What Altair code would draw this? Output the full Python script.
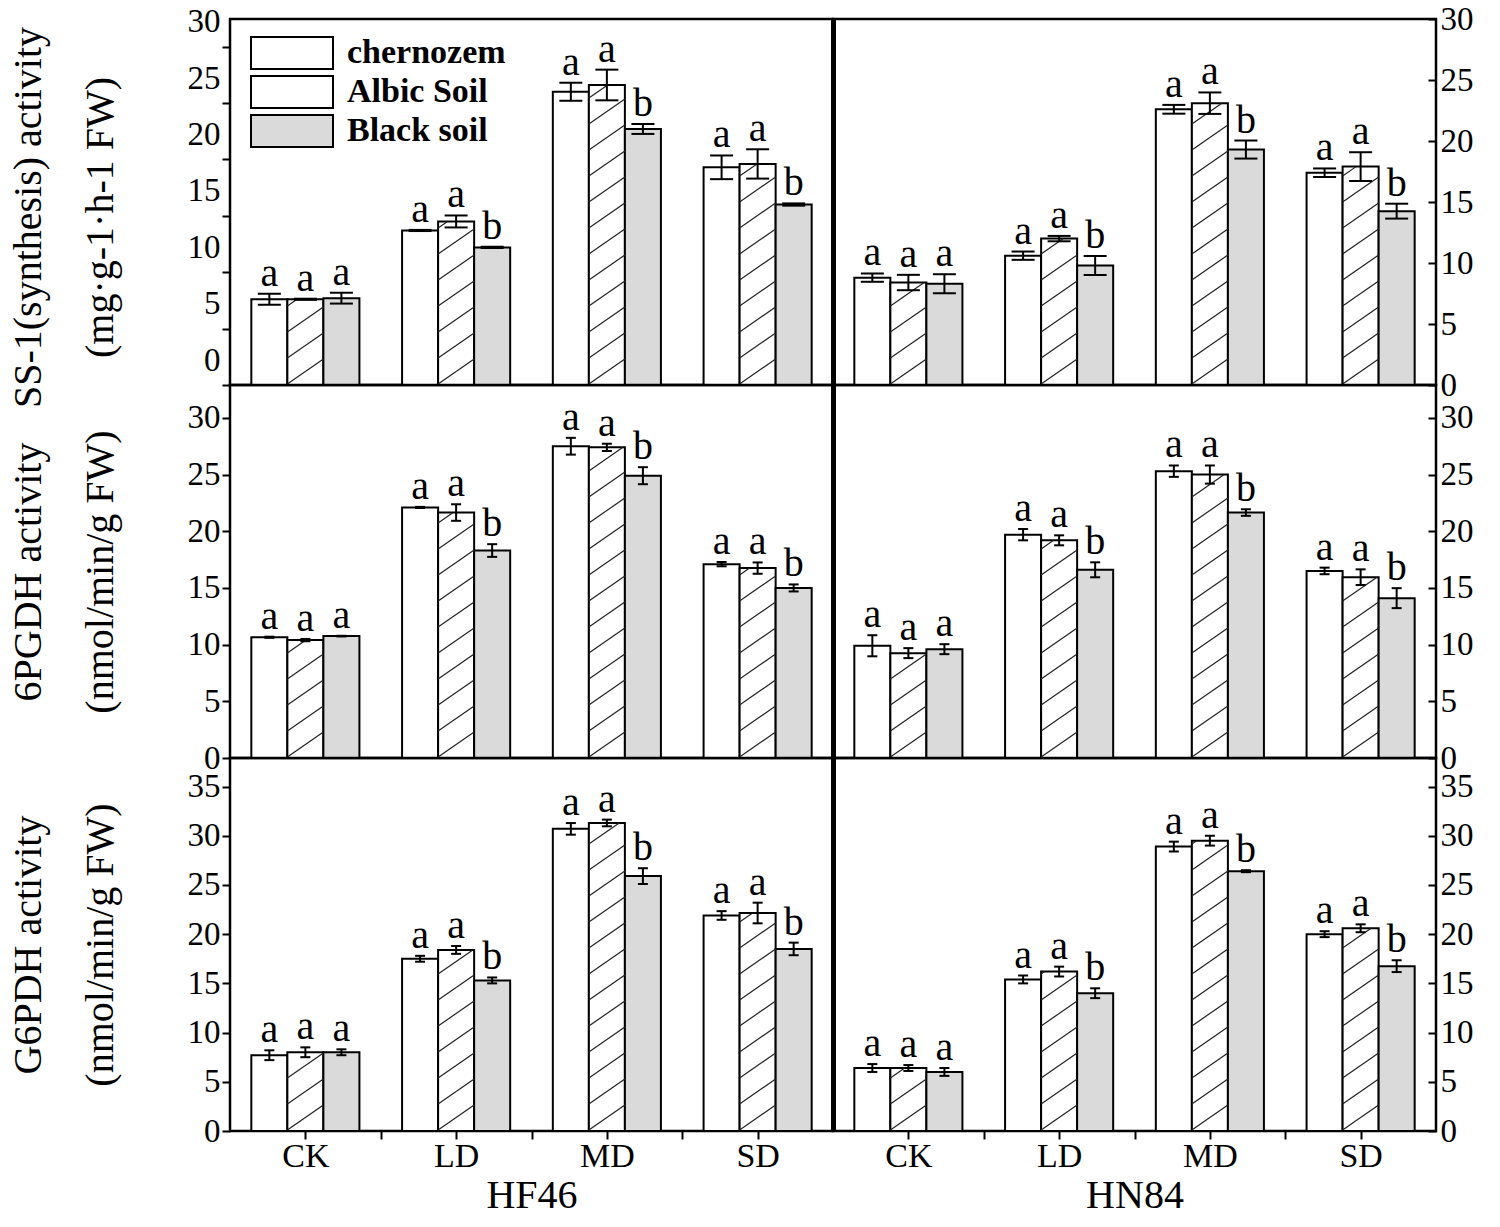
import json
import altair as alt
import pandas as pd

TREATMENTS = ["CK", "LD", "MD", "SD"]
SOILS = ["chernozem", "Albic Soil", "Black soil"]
CULTIVARS = ["HF46", "HN84"]
# significance letters, rows = soils, columns = treatments
LETTERS = [["a", "a", "a", "a"], ["a", "a", "a", "a"], ["a", "b", "b", "b"]]

# means and errors, rows = soils (chernozem, Albic Soil, Black soil), columns = CK, LD, MD, SD
SS1_HF46 = [[7.6, 13.7, 26.0, 19.3], [7.6, 14.5, 26.6, 19.6], [7.7, 12.2, 22.7, 16.0]]
SS1_HF46_ERR = [[0.48, 0.05, 0.8, 1.05], [0.05, 0.53, 1.36, 1.3], [0.48, 0.05, 0.44, 0.1]]
SS1_HN84 = [[8.8, 10.6, 22.6, 17.4], [8.4, 12.0, 23.1, 17.9], [8.3, 9.8, 19.3, 14.25]]
SS1_HN84_ERR = [[0.34, 0.34, 0.36, 0.35], [0.63, 0.22, 0.88, 1.18], [0.78, 0.78, 0.74, 0.61]]

PGDH_HF46 = [[10.65, 22.1, 27.5, 17.1], [10.4, 21.65, 27.4, 16.75], [10.75, 18.3, 24.9, 15.0]]
PGDH_HF46_ERR = [[0.05, 0.05, 0.74, 0.19], [0.1, 0.73, 0.32, 0.5], [0.03, 0.56, 0.75, 0.31]]
PGDH_HN84 = [[9.9, 19.7, 25.3, 16.5], [9.25, 19.2, 25.0, 15.95], [9.6, 16.6, 21.65, 14.1]]
PGDH_HN84_ERR = [[0.93, 0.5, 0.5, 0.29], [0.44, 0.44, 0.8, 0.69], [0.44, 0.66, 0.29, 0.88]]

G6PDH_HF46 = [[7.7, 17.5, 30.7, 21.9], [8.0, 18.4, 31.3, 22.15], [8.0, 15.3, 25.9, 18.5]]
G6PDH_HF46_ERR = [[0.5, 0.3, 0.59, 0.44], [0.5, 0.4, 0.34, 1.05], [0.3, 0.3, 0.8, 0.64]]
G6PDH_HN84 = [[6.4, 15.4, 28.9, 20.0], [6.4, 16.2, 29.5, 20.6], [6.0, 14.0, 26.4, 16.75]]
G6PDH_HN84_ERR = [[0.4, 0.4, 0.5, 0.3], [0.3, 0.5, 0.5, 0.4], [0.4, 0.5, 0.1, 0.6]]

TITLES = [
    ["SS-1(synthesis) activity", "(mg·g-1·h-1 FW)"],
    ["6PGDH activity", "(nmol/min/g FW)"],
    ["G6PDH activity", "(nmol/min/g FW)"],
]

FONT = "Liberation Serif"
PANEL_W = 603
BW = 0.239
FILLS = ["white", "white", "#dadada"]
RECT = "M-2.5625,-1H2.5625V1H-2.5625Z"
HATCH = RECT + "M-2.5625,0.6L-0.5625,-1M-1,1L1.5,-1M1.0625,1L2.5625,-0.2"

# candidate custom encodings for the legend symbols (outline + hatched Albic symbol)
LEGEND_ENCODES = [
    {"symbols": {"stroke": {"value": "black"}, "strokeWidth": {"value": 2},
                 "shape": {"condition": {"test": f"datum.value === '{SOILS[1]}'", "value": HATCH},
                           "value": RECT}}},
    {"symbols": {"stroke": {"value": "black"}, "strokeWidth": {"value": 2}}},
    None,
]


def make_df(means, errs):
    rows = []
    for si, soil in enumerate(SOILS):
        for ti, tr in enumerate(TREATMENTS):
            rows.append({"treatment": tr, "soil": soil, "value": means[si][ti],
                         "err": errs[si][ti], "letter": LETTERS[si][ti]})
    return pd.DataFrame(rows)


def enc_x(field, xs, show_axis, axis):
    # bottom row: the bar layer owns the axis, other layers merge into it
    if axis is not None:
        return alt.X(field, scale=xs, axis=axis)
    if show_axis:
        return alt.X(field, scale=xs)
    return alt.X(field, scale=xs, axis=None)


def panel(means, errs, ymax, height, ticks, side, ytitle=None, xtitle=None,
          cap=10, label_offset=0, title_y=None, legend_encode=False):
    df = make_df(means, errs)
    ppu = height / ymax
    S = 26.0 / ppu
    R = 25.0 / ppu
    xs = alt.Scale(domain=[0, 4], nice=False, zero=False)
    ys = alt.Scale(domain=[0, ymax], nice=False, zero=True)
    soil_color = alt.Scale(domain=SOILS, range=FILLS)
    show_x = bool(xtitle)

    base = (alt.Chart(df)
            .transform_calculate(t=f"indexof({json.dumps(TREATMENTS)}, datum.treatment)")
            .transform_calculate(s=f"indexof({json.dumps(SOILS)}, datum.soil)")
            .transform_calculate(xc=f"datum.t + 0.5 + (datum.s - 1) * {BW}")
            .transform_calculate(xl=f"datum.xc - {BW / 2}")
            .transform_calculate(xr=f"datum.xc + {BW / 2}")
            .transform_calculate(lo="datum.value - datum.err")
            .transform_calculate(hi="datum.value + datum.err"))

    if show_x:
        xaxis = alt.Axis(values=[0.5, 1, 1.5, 2, 2.5, 3, 3.5],
                         labelExpr=f"datum.value % 1 == 0 ? '' : {json.dumps(TREATMENTS)}[floor(datum.value)]",
                         tickSize=8, tickWidth=2, tickColor="black", labelPadding=0,
                         labelFont=FONT, labelFontSize=34, labelColor="black",
                         labelOverlap=False, labelFlush=False,
                         title=xtitle, titleFont=FONT, titleFontSize=40, titleFontWeight="normal",
                         titleColor="black", titlePadding=2, domain=False, grid=False)
    else:
        xaxis = None

    if side == "left":
        akw = dict(orient="left", values=ticks, tickSize=8, tickWidth=2, tickColor="black",
                   labelPadding=2, labelFont=FONT, labelFontSize=33, labelColor="black",
                   labelOffset=label_offset, labelOverlap=False, labelFlush=False,
                   domain=False, grid=False, title=ytitle, titleFont=FONT, titleFontSize=40,
                   titleFontWeight="normal", titleColor="black", titleLineHeight=72,
                   titlePadding=67)
        if title_y is not None:
            akw["titleY"] = title_y
        yaxis = alt.Axis(**akw)
    else:
        yaxis = alt.Axis(orient="right", offset=-8, values=ticks, tickSize=8, tickWidth=2,
                         tickColor="black", labelPadding=4, labelFont=FONT, labelFontSize=33,
                         labelColor="black", labelOverlap=False, labelFlush=False,
                         domain=False, grid=False, title=None)

    def enc_y(field):
        # left panels: one shared axis owned by the bars; right panels: independent axes
        if side == "left":
            return alt.Y(field, scale=ys)
        return alt.Y(field, scale=ys, axis=None)

    if legend_encode is not False:
        lkw = dict(
            title=None, orient="top-left", offset=17, symbolType=RECT, symbolSize=1024,
            symbolOffset=28, symbolStrokeColor="black", symbolStrokeWidth=2, symbolOpacity=1,
            labelFont=FONT, labelFontSize=34, labelFontWeight="bold", labelColor="black",
            labelOffset=38, rowPadding=-1, padding=0,
        )
        if legend_encode is not None:
            lkw["encode"] = legend_encode
        leg = alt.Legend(**lkw)
    else:
        leg = None

    bars = base.mark_rect(stroke="black", strokeWidth=2).encode(
        x=enc_x("xl:Q", xs, show_x, xaxis if show_x else None),
        x2="xr:Q",
        y=alt.Y("value:Q", scale=ys, axis=yaxis),
        y2=alt.datum(0),
        color=alt.Color("soil:N", scale=soil_color, legend=leg),
    )

    hatch = (base.transform_filter(alt.datum.soil == SOILS[1])
             .transform_calculate(k=f"sequence(0, ceil((datum.value + {R}) / {S}) + 1)")
             .transform_flatten(["k"])
             .transform_calculate(yl=f"datum.k * {S} - {R}")
             .transform_calculate(y0="max(datum.yl, 0)")
             .transform_calculate(y1=f"min(datum.yl + {R}, datum.value)")
             .transform_filter("datum.y1 > datum.y0")
             .transform_calculate(hx0=f"datum.xl + (datum.y0 - datum.yl) / {R} * {BW}")
             .transform_calculate(hx1=f"datum.xl + (datum.y1 - datum.yl) / {R} * {BW}")
             .mark_rule(color="#222222", strokeWidth=1.2)
             .encode(x=enc_x("hx0:Q", xs, show_x, None), x2="hx1:Q",
                     y=enc_y("y0:Q"), y2="y1:Q"))

    if side == "right":
        ry = alt.Y("lo:Q", scale=ys,
                   axis=alt.Axis(orient="left", labels=False, ticks=False, domain=True,
                                 domainWidth=5, domainColor="black", title=None, grid=False))
    else:
        ry = enc_y("lo:Q")
    rule = base.mark_rule(color="black", strokeWidth=2).encode(
        x=enc_x("xc:Q", xs, show_x, None),
        y=ry,
        y2="hi:Q",
    )
    caps = (base.transform_fold(["lo", "hi"], as_=["end", "yv"])
            .mark_tick(orient="horizontal", size=cap, thickness=2, color="black", opacity=1)
            .encode(x=enc_x("xc:Q", xs, show_x, None), y=enc_y("yv:Q")))
    text = base.mark_text(font=FONT, fontSize=40, baseline="alphabetic", dy=-8,
                          color="black").encode(
        x=enc_x("xc:Q", xs, show_x, None),
        y=enc_y("hi:Q"),
        text="letter:N",
    )
    ch = alt.layer(bars, hatch, rule, caps, text).properties(width=PANEL_W, height=height)
    if side == "right":
        ch = ch.resolve_axis(y="independent")
    return ch


H1, H2, H3 = 366, 373, 373
T30 = [0, 5, 10, 15, 20, 25, 30]
T35 = [0, 5, 10, 15, 20, 25, 30, 35]


def build(legend_encode):
    p11 = panel(SS1_HF46, SS1_HF46_ERR, 32.45, H1, T30, "left", ytitle=TITLES[0], cap=23,
                label_offset=-25, title_y=198, legend_encode=legend_encode)
    p12 = panel(SS1_HN84, SS1_HN84_ERR, 30, H1, T30, "right", cap=23)
    p21 = panel(PGDH_HF46, PGDH_HF46_ERR, 32.9, H2, T30, "left", ytitle=TITLES[1], cap=10)
    p22 = panel(PGDH_HN84, PGDH_HN84_ERR, 32.9, H2, T30, "right", cap=10)
    p31 = panel(G6PDH_HF46, G6PDH_HF46_ERR, 37.9, H3, T35, "left", ytitle=TITLES[2],
                xtitle=CULTIVARS[0], cap=10)
    p32 = panel(G6PDH_HN84, G6PDH_HN84_ERR, 37.9, H3, T35, "right", xtitle=CULTIVARS[1],
                cap=10)
    res = dict(x="independent", y="independent", color="independent")
    return (alt.concat(p11, p12, p21, p22, p31, p32, columns=2, spacing=0, bounds="flush")
            .resolve_scale(**res)
            .properties(padding={"top": -7, "left": -2, "right": 0, "bottom": -3},
                        background="white")
            .configure_view(stroke="black", strokeWidth=2.5)
            .configure_legend(symbolStrokeColor="black", symbolStrokeWidth=2))


chart = None
for enc in LEGEND_ENCODES:
    try:
        candidate = build(enc)
        candidate.to_dict()
        chart = candidate
        break
    except Exception:
        continue
if chart is None:
    chart = build(False)

chart.save("out.html", embed_options={"renderer": "svg", "actions": False})
